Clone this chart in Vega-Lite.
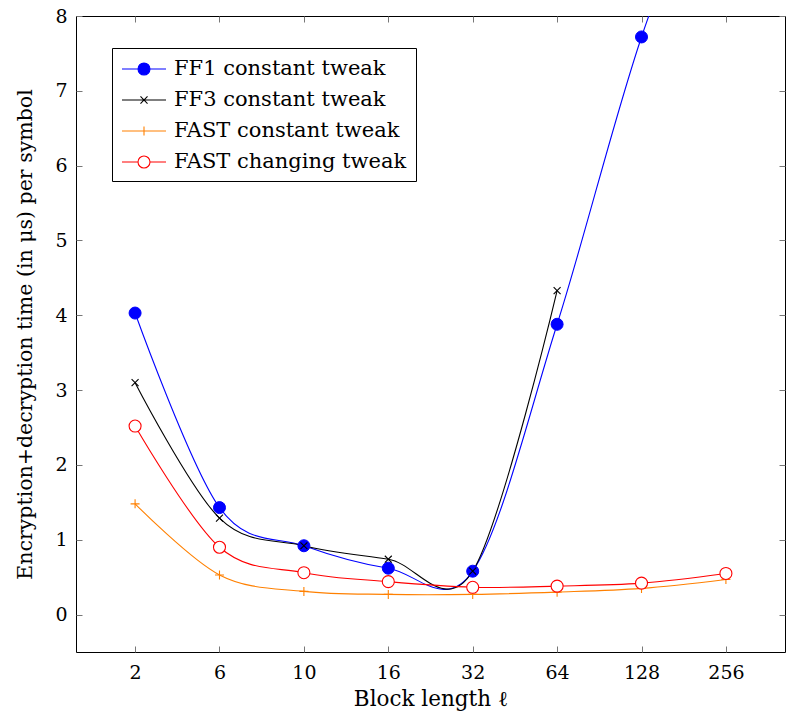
{
  "$schema": "https://vega.github.io/schema/vega-lite/v6.json",
  "width": 709,
  "height": 636,
  "autosize": {"type": "none"},
  "padding": {"left": 76, "top": 16, "right": 2, "bottom": 67},
  "background": "white",
  "config": {
    "view": {"stroke": "#000000", "strokeWidth": 1},
    "font": "DejaVu Serif",
    "axis": {
      "domain": false,
      "grid": false,
      "tickSize": -6,
      "tickColor": "#777777",
      "tickWidth": 1,
      "labelFont": "DejaVu Serif",
      "labelFontSize": 19,
      "labelColor": "#000000",
      "titleFont": "DejaVu Serif",
      "titleFontSize": 21.5,
      "titleFontWeight": "normal",
      "titleColor": "#000000"
    }
  },
  "data": {
    "values": [
      {"series": "FF1 constant tweak", "len": 2, "t": 4.03},
      {"series": "FF1 constant tweak", "len": 6, "t": 1.43},
      {"series": "FF1 constant tweak", "len": 10, "t": 0.92},
      {"series": "FF1 constant tweak", "len": 16, "t": 0.62},
      {"series": "FF1 constant tweak", "len": 32, "t": 0.58},
      {"series": "FF1 constant tweak", "len": 64, "t": 3.88},
      {"series": "FF1 constant tweak", "len": 128, "t": 7.72},
      {"series": "FF1 constant tweak", "len": 256, "t": 10.6},
      {"series": "FF3 constant tweak", "len": 2, "t": 3.10},
      {"series": "FF3 constant tweak", "len": 6, "t": 1.29},
      {"series": "FF3 constant tweak", "len": 10, "t": 0.92},
      {"series": "FF3 constant tweak", "len": 16, "t": 0.74},
      {"series": "FF3 constant tweak", "len": 32, "t": 0.58},
      {"series": "FF3 constant tweak", "len": 64, "t": 4.33},
      {"series": "FAST constant tweak", "len": 2, "t": 1.48},
      {"series": "FAST constant tweak", "len": 6, "t": 0.53},
      {"series": "FAST constant tweak", "len": 10, "t": 0.31},
      {"series": "FAST constant tweak", "len": 16, "t": 0.27},
      {"series": "FAST constant tweak", "len": 32, "t": 0.27},
      {"series": "FAST constant tweak", "len": 64, "t": 0.30},
      {"series": "FAST constant tweak", "len": 128, "t": 0.35},
      {"series": "FAST constant tweak", "len": 256, "t": 0.47},
      {"series": "FAST changing tweak", "len": 2, "t": 2.52},
      {"series": "FAST changing tweak", "len": 6, "t": 0.90},
      {"series": "FAST changing tweak", "len": 10, "t": 0.56},
      {"series": "FAST changing tweak", "len": 16, "t": 0.44},
      {"series": "FAST changing tweak", "len": 32, "t": 0.365},
      {"series": "FAST changing tweak", "len": 64, "t": 0.38},
      {"series": "FAST changing tweak", "len": 128, "t": 0.42},
      {"series": "FAST changing tweak", "len": 256, "t": 0.55}
    ]
  },
  "resolve": {"axis": {"x": "independent", "y": "independent"}},
  "layer": [
    {
      "mark": {"type": "line", "interpolate": "cardinal", "strokeWidth": 1.1, "clip": true},
      "encoding": {
        "x": {
          "field": "len", "type": "ordinal",
          "scale": {"type": "point", "domain": [2, 6, 10, 16, 32, 64, 128, 256], "padding": 0.7},
          "axis": {"orient": "bottom", "labelAngle": 0, "labelPadding": 17, "title": "Block length ℓ", "titlePadding": 6}
        },
        "y": {
          "field": "t", "type": "quantitative",
          "scale": {"domain": [-0.5, 8], "nice": false, "zero": false},
          "axis": {"orient": "left", "values": [0, 1, 2, 3, 4, 5, 6, 7, 8], "labelPadding": 15, "title": "Encryption+decryption time (in μs) per symbol", "titlePadding": 19, "titleFontSize": 20.5}
        },
        "stroke": {
          "field": "series", "type": "nominal",
          "scale": {"domain": ["FF1 constant tweak", "FF3 constant tweak", "FAST constant tweak", "FAST changing tweak"], "range": ["#0000ff", "#000000", "#ff8000", "#ff0000"]},
          "legend": {
            "orient": "none",
            "legendX": 36,
            "legendY": 32,
            "title": null,
            "fillColor": "#ffffff",
            "strokeColor": "#000000",
            "cornerRadius": 0,
            "padding": 9,
            "symbolSize": 484,
            "symbolOffset": 11,
            "labelOffset": 18,
            "labelLimit": 0,
            "rowPadding": 9,
            "labelFont": "DejaVu Serif",
            "labelFontSize": 21,
            "labelColor": "#000000",
            "encode": {
              "symbols": {
                "update": {
                  "shape": {"signal": "datum.value === 'FF1 constant tweak' || datum.value === 'FAST changing tweak' ? 'M-2,0L-0.545,0M0.545,0L2,0M0.545,0A0.545,0.545,0,1,1,-0.545,0A0.545,0.545,0,1,1,0.545,0Z' : datum.value === 'FF3 constant tweak' ? 'M-2,0L2,0M-0.32,-0.32L0.32,0.32M-0.32,0.32L0.32,-0.32' : 'M-2,0L2,0M0,-0.41L0,0.41'"},
                  "fill": {"signal": "datum.value === 'FF1 constant tweak' ? '#0000ff' : datum.value === 'FAST changing tweak' ? '#ffffff' : 'transparent'"},
                  "stroke": {"signal": "datum.value === 'FF1 constant tweak' ? '#0000ff' : datum.value === 'FF3 constant tweak' ? '#000000' : datum.value === 'FAST constant tweak' ? '#ff8000' : '#ff0000'"},
                  "strokeWidth": {"value": 1.1},
                  "strokeDash": {"value": []},
                  "opacity": {"value": 1},
                  "size": {"value": 484}
                }
              }
            }
          }
        },
        "detail": {"field": "series"}
      }
    },
    {
      "transform": [{"filter": "datum.series === 'FF1 constant tweak'"}],
      "mark": {"type": "point", "shape": "circle", "size": 144, "filled": true, "color": "#0000ff", "stroke": "#0000ff", "strokeWidth": 1, "opacity": 1, "clip": true},
      "encoding": {
        "x": {
          "field": "len", "type": "ordinal",
          "scale": {"type": "point", "domain": [2, 6, 10, 16, 32, 64, 128, 256], "padding": 0.7},
          "axis": {"orient": "top", "labels": false, "title": null}
        },
        "y": {
          "field": "t", "type": "quantitative",
          "scale": {"domain": [-0.5, 8], "nice": false, "zero": false},
          "axis": {"orient": "right", "values": [0, 1, 2, 3, 4, 5, 6, 7, 8], "labels": false, "title": null}
        }
      }
    },
    {
      "transform": [{"filter": "datum.series === 'FF3 constant tweak'"}],
      "mark": {"type": "point", "shape": "M-0.58,-0.58L0.58,0.58M-0.58,0.58L0.58,-0.58", "size": 144, "filled": false, "color": "#000000", "strokeWidth": 1.1, "opacity": 1, "clip": true},
      "encoding": {
        "x": {"field": "len", "type": "ordinal", "axis": null},
        "y": {"field": "t", "type": "quantitative", "axis": null}
      }
    },
    {
      "transform": [{"filter": "datum.series === 'FAST constant tweak'"}],
      "mark": {"type": "point", "shape": "M-0.75,0L0.75,0M0,-0.75L0,0.75", "size": 144, "filled": false, "color": "#ff8000", "strokeWidth": 1.1, "opacity": 1, "clip": true},
      "encoding": {
        "x": {"field": "len", "type": "ordinal", "axis": null},
        "y": {"field": "t", "type": "quantitative", "axis": null}
      }
    },
    {
      "transform": [{"filter": "datum.series === 'FAST changing tweak'"}],
      "mark": {"type": "point", "shape": "circle", "size": 144, "filled": false, "fill": "#ffffff", "fillOpacity": 1, "stroke": "#ff0000", "strokeWidth": 1.1, "opacity": 1, "clip": true},
      "encoding": {
        "x": {"field": "len", "type": "ordinal", "axis": null},
        "y": {"field": "t", "type": "quantitative", "axis": null}
      }
    }
  ]
}
